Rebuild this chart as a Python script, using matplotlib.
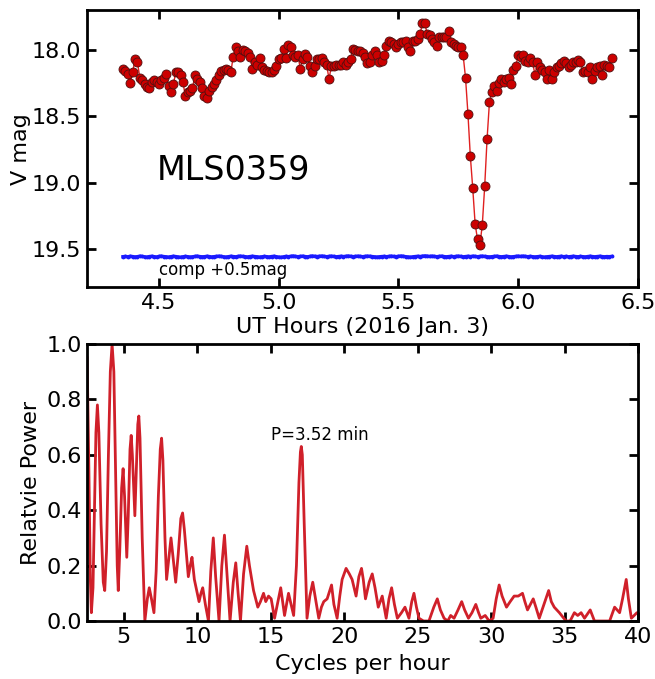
import numpy as np
import matplotlib
matplotlib.use("Agg")
import matplotlib.pyplot as plt

# light curve: first time stamp (UT hours) and cadence (hours)
t_start = 4.35
cadence = 0.01
vmag = [
    18.14, 18.16, 18.18, 18.25, 18.17, 18.07, 18.09, 18.21, 18.23, 18.26,
    18.28, 18.29, 18.24, 18.23, 18.24, 18.26, 18.23, 18.21, 18.18, 18.27,
    18.32, 18.26, 18.17, 18.17, 18.19, 18.24, 18.35, 18.32, 18.31, 18.29,
    18.19, 18.22, 18.24, 18.29, 18.35, 18.36, 18.31, 18.28, 18.26, 18.23,
    18.19, 18.16, 18.15, 18.14, 18.15, 18.17, 18.05, 17.98, 18.01, 18.05,
    18.00, 18.01, 18.02, 18.05, 18.14, 18.09, 18.11, 18.06, 18.13, 18.15,
    18.16, 18.17, 18.17, 18.15, 18.12, 18.07, 18.06, 17.99, 18.06, 17.96,
    17.98, 18.04, 18.05, 18.04, 18.14, 18.07, 18.03, 18.05, 18.12, 18.17,
    18.12, 18.07, 18.07, 18.06, 18.09, 18.11, 18.22, 18.12, 18.12, 18.11,
    18.11, 18.11, 18.09, 18.11, 18.09, 18.07, 17.99, 18.00, 18.01, 18.01,
    18.02, 18.05, 18.10, 18.09, 18.04, 18.01, 18.04, 18.09, 18.08, 18.04,
    17.97, 17.93, 17.94, 17.955, 17.98, 17.955, 17.94, 17.94, 17.93, 17.98,
    18.005, 17.93, 17.93, 17.92, 17.88, 17.80, 17.80, 17.88, 17.89, 17.92,
    17.94, 17.97, 17.90, 17.90, 17.905, 17.90, 17.86, 17.94, 17.955, 17.97,
    17.975, 17.98, 18.04, 18.21, 18.48, 18.80, 19.04, 19.31, 19.43, 19.47,
    19.32, 19.03, 18.67, 18.39, 18.32, 18.27, 18.31, 18.25, 18.22, 18.24,
    18.22, 18.21, 18.26, 18.15, 18.12, 18.04, 18.05, 18.04, 18.08, 18.09,
    18.06, 18.09, 18.19, 18.09, 18.13, 18.15, 18.17, 18.22, 18.15, 18.22,
    18.17, 18.13, 18.12, 18.10, 18.08, 18.10, 18.13, 18.11, 18.09, 18.09,
    18.075, 18.09, 18.17, 18.16, 18.17, 18.13, 18.22, 18.16, 18.13, 18.12,
    18.19, 18.11, 18.12, 18.13, 18.06,
]
# comparison star, shifted by +0.5 mag, same time stamps
comp = [
    19.560, 19.558, 19.561, 19.557, 19.559, 19.562, 19.560, 19.556, 19.558, 19.561,
    19.563, 19.559, 19.557, 19.560, 19.562, 19.558, 19.556, 19.559, 19.561, 19.563,
    19.560, 19.557, 19.559, 19.562, 19.564, 19.561, 19.558, 19.560, 19.563, 19.561,
    19.558, 19.556, 19.559, 19.561, 19.560, 19.557, 19.559, 19.562, 19.560, 19.558,
    19.556, 19.558, 19.561, 19.563, 19.560, 19.557, 19.559, 19.561, 19.558, 19.556,
    19.558, 19.560, 19.562, 19.559, 19.557, 19.559, 19.561, 19.563, 19.561, 19.558,
    19.560, 19.562, 19.559, 19.557, 19.560, 19.563, 19.565, 19.561, 19.558, 19.560,
    19.557, 19.555, 19.558, 19.560, 19.558, 19.556, 19.559, 19.561, 19.558, 19.555,
    19.557, 19.559, 19.557, 19.555, 19.558, 19.560, 19.558, 19.556, 19.558, 19.561,
    19.559, 19.557, 19.559, 19.557, 19.555, 19.557, 19.560, 19.558, 19.556, 19.558,
    19.560, 19.558, 19.556, 19.557, 19.559, 19.561, 19.563, 19.561, 19.559, 19.558,
    19.560, 19.558, 19.556, 19.558, 19.560, 19.557, 19.555, 19.557, 19.560, 19.562,
    19.564, 19.561, 19.559, 19.557, 19.559, 19.556, 19.554, 19.556, 19.558, 19.556,
    19.558, 19.560, 19.558, 19.556, 19.559, 19.561, 19.559, 19.557, 19.560, 19.558,
    19.556, 19.558, 19.561, 19.559, 19.557, 19.559, 19.556, 19.558, 19.560, 19.558,
    19.556, 19.558, 19.560, 19.562, 19.560, 19.558, 19.556, 19.559, 19.561, 19.559,
    19.557, 19.559, 19.562, 19.560, 19.558, 19.556, 19.558, 19.556, 19.558, 19.560,
    19.558, 19.560, 19.562, 19.560, 19.558, 19.561, 19.563, 19.561, 19.559, 19.557,
    19.559, 19.561, 19.559, 19.557, 19.560, 19.558, 19.561, 19.559, 19.557, 19.559,
    19.561, 19.558, 19.560, 19.562, 19.559, 19.557, 19.559, 19.561, 19.559, 19.557,
    19.559, 19.561, 19.559, 19.560, 19.558,
]

# periodogram
freq = [
    2.50, 2.62, 2.72, 2.79, 2.90, 3.00, 3.10, 3.20, 3.30, 3.45, 3.60, 3.70,
    3.82, 3.95, 4.08, 4.20, 4.32, 4.45, 4.55, 4.62, 4.72, 4.85, 4.95, 5.05,
    5.20, 5.30, 5.42, 5.50, 5.58, 5.75, 5.85, 5.95, 6.02, 6.10, 6.25, 6.43,
    6.60, 6.73, 6.88, 7.05, 7.20, 7.35, 7.48, 7.57, 7.66, 7.80, 7.91, 8.05,
    8.21, 8.35, 8.53, 8.70, 8.88, 9.00, 9.12, 9.39, 9.52, 9.64, 9.80, 10.12,
    10.25, 10.37, 10.55, 10.76, 10.92, 11.09, 11.25, 11.48, 11.67, 11.85, 12.02, 12.23,
    12.45, 12.62, 12.78, 12.94, 13.15, 13.37, 13.55, 13.83, 14.12, 14.30, 14.51, 14.66,
    14.85, 15.03, 15.26, 15.45, 15.68, 15.94, 16.21, 16.56, 16.75, 16.92, 17.02, 17.08,
    17.15, 17.28, 17.47, 17.66, 17.86, 18.05, 18.27, 18.45, 18.61, 18.84, 19.14, 19.30,
    19.52, 19.70, 19.86, 20.13, 20.35, 20.54, 20.81, 21.00, 21.18, 21.30, 21.45, 21.70,
    21.91, 22.10, 22.32, 22.59, 22.86, 23.05, 23.23, 23.42, 23.62, 23.90, 24.14, 24.41,
    24.60, 24.75, 24.92, 25.09, 25.40, 25.77, 26.10, 26.34, 26.55, 26.80, 27.05, 27.25,
    27.48, 27.75, 28.00, 28.20, 28.46, 28.70, 28.96, 29.15, 29.30, 29.60, 29.87, 30.14,
    30.35, 30.55, 30.75, 31.05, 31.30, 31.57, 31.85, 32.14, 32.30, 32.48, 32.87, 33.05,
    33.28, 33.60, 33.92, 34.10, 34.30, 34.65, 35.10, 35.38, 35.67, 35.90, 36.13, 36.36,
    36.75, 37.04, 37.61, 38.07, 38.41, 38.75, 38.95, 39.20, 39.35, 39.55, 39.93, 40.00,
]
power = [
    0.95, 0.55, 0.15, 0.03, 0.12, 0.40, 0.68, 0.78, 0.68, 0.35, 0.14, 0.11,
    0.25, 0.60, 0.90, 1.00, 0.90, 0.50, 0.20, 0.11, 0.25, 0.48, 0.55, 0.45,
    0.23, 0.38, 0.62, 0.67, 0.60, 0.38, 0.55, 0.71, 0.74, 0.66, 0.30, 0.00,
    0.08, 0.12, 0.08, 0.03, 0.18, 0.45, 0.62, 0.66, 0.58, 0.30, 0.15, 0.22,
    0.30, 0.23, 0.14, 0.24, 0.37, 0.39, 0.33, 0.16, 0.20, 0.23, 0.15, 0.07,
    0.10, 0.12, 0.06, 0.00, 0.18, 0.30, 0.16, 0.00, 0.20, 0.31, 0.17, 0.00,
    0.14, 0.21, 0.10, 0.00, 0.17, 0.27, 0.20, 0.11, 0.05, 0.07, 0.10, 0.07,
    0.09, 0.08, 0.01, 0.06, 0.12, 0.02, 0.10, 0.02, 0.20, 0.50, 0.61, 0.63,
    0.60, 0.35, 0.01, 0.09, 0.14, 0.08, 0.01, 0.05, 0.07, 0.08, 0.13, 0.06,
    0.01, 0.09, 0.15, 0.19, 0.17, 0.15, 0.09, 0.16, 0.19, 0.15, 0.08, 0.14,
    0.17, 0.12, 0.05, 0.09, 0.01, 0.08, 0.12, 0.06, 0.01, 0.03, 0.05, 0.01,
    0.07, 0.10, 0.05, 0.01, 0.00, 0.00, 0.05, 0.08, 0.04, 0.01, 0.00, 0.02,
    0.01, 0.04, 0.07, 0.04, 0.01, 0.03, 0.06, 0.03, 0.01, 0.02, 0.00, 0.01,
    0.08, 0.13, 0.09, 0.05, 0.07, 0.09, 0.09, 0.10, 0.07, 0.04, 0.08, 0.05,
    0.01, 0.06, 0.11, 0.07, 0.05, 0.03, 0.00, 0.00, 0.03, 0.02, 0.03, 0.01,
    0.04, 0.00, 0.00, 0.00, 0.05, 0.03, 0.08, 0.15, 0.08, 0.01, 0.03, 0.03,
]

t = t_start + cadence * np.arange(len(vmag))

fs = 16
fig = plt.figure(figsize=(6.55, 6.79), dpi=100)


def style(ax):
    for sp in ax.spines.values():
        sp.set_linewidth(2)
    ax.tick_params(direction='in', top=True, right=True, length=6.5, width=2,
                   labelsize=fs, pad=4)


ax1 = fig.add_axes([0.133, 0.577, 0.841, 0.408])
ax1.plot(t, comp, '.-', color='#1a1aff', lw=2.5, ms=3.5)
ax1.plot(t, vmag, 'o-', color='#e02020', lw=1, ms=6.5, mfc='#cc0000',
         mec='#501010', mew=0.6)
ax1.set_xlim(4.2, 6.5)
ax1.set_ylim(19.79, 17.7)
ax1.set_xticks([4.5, 5.0, 5.5, 6.0, 6.5])
ax1.set_yticks([18.0, 18.5, 19.0, 19.5])
ax1.set_ylabel('V mag', fontsize=fs, labelpad=1)
ax1.set_xlabel('UT Hours (2016 Jan. 3)', fontsize=fs, labelpad=3)
ax1.text(4.49, 18.91, 'MLS0359', fontsize=24, va='center', ha='left')
ax1.text(4.5, 19.66, 'comp +0.5mag', fontsize=12, va='center', ha='left')
style(ax1)

ax2 = fig.add_axes([0.133, 0.0854, 0.841, 0.408])
ax2.plot(freq, power, color='#d0202a', lw=2, solid_joinstyle='round')
ax2.set_xlim(2.5, 40)
ax2.set_ylim(0, 1.0)
ax2.set_xticks([5, 10, 15, 20, 25, 30, 35, 40])
ax2.set_yticks([0.0, 0.2, 0.4, 0.6, 0.8, 1.0])
ax2.set_ylabel('Relatvie Power', fontsize=fs, labelpad=4)
ax2.set_xlabel('Cycles per hour', fontsize=fs, labelpad=5)
ax2.text(15.05, 0.671, 'P=3.52 min', fontsize=12, va='center', ha='left')
style(ax2)

fig.savefig('out.png', dpi=100)
